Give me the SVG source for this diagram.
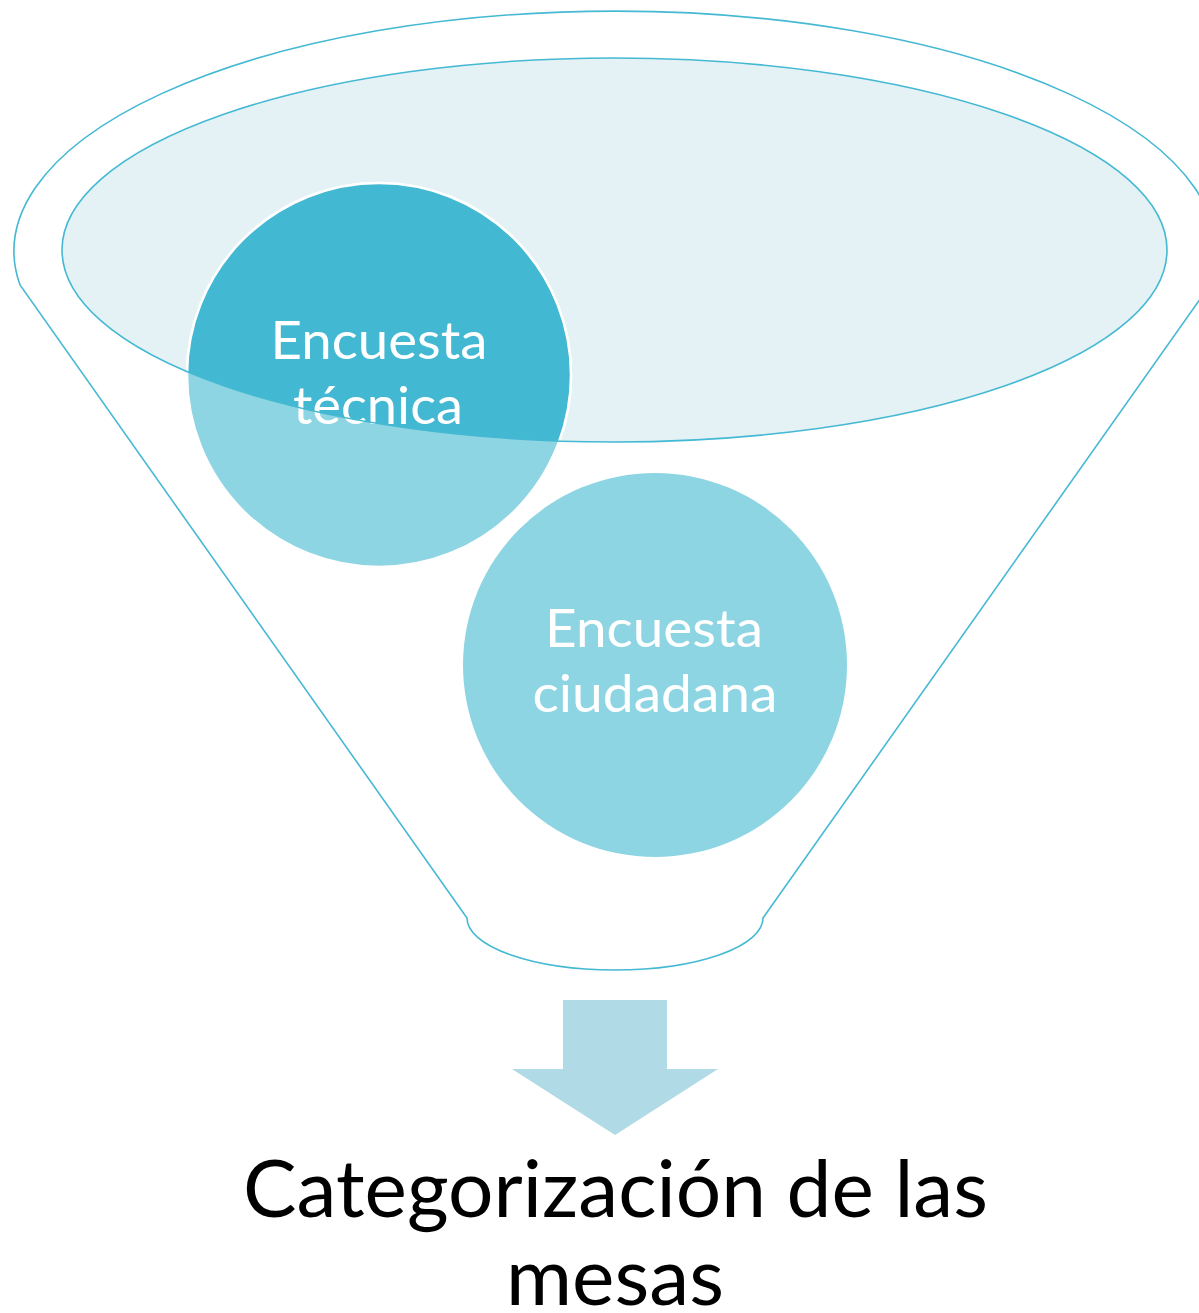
<svg xmlns="http://www.w3.org/2000/svg" width="1199" height="1313" viewBox="0 0 1199 1313">
  <style>
    .line { fill: none; stroke: #45B9D3; stroke-width: 1.6; }
    .lbl { font-family: Lato, "Open Sans", "Liberation Sans", sans-serif; fill: #FFFFFF; font-size: 52px; text-anchor: middle; }
    .cap { font-family: Lato, "Open Sans", "Liberation Sans", sans-serif; fill: #000000; font-size: 79px; text-anchor: middle; }
  </style>
  <defs>
    <clipPath id="innerClip">
      <ellipse cx="614.5" cy="250" rx="552.5" ry="192"/>
    </clipPath>
  </defs>
  <rect width="1199" height="1313" fill="#FFFFFF"/>
  <g id="funnel">
    <path class="line" fill="#FFFFFF" d="M 20,285 A 601 240 0 1 1 1210,285 L 763,918 A 148 52 0 0 1 467,918 Z" style="fill:#FFFFFF"/>
    <ellipse id="funnel-top" cx="614.5" cy="250" rx="552.5" ry="192" fill="#E4F2F6"/>
  </g>
  <g id="node-tecnica">
    <circle cx="379" cy="375" r="192" fill="#8ED5E3" stroke="#FFFFFF" stroke-width="2.5"/>
    <circle cx="379" cy="375" r="192" fill="#42B8D2" stroke="#FFFFFF" stroke-width="2.5" clip-path="url(#innerClip)"/>
    <text class="lbl" x="379" y="359" textLength="217" lengthAdjust="spacingAndGlyphs">Encuesta</text>
    <text class="lbl" x="378" y="424" textLength="170" lengthAdjust="spacingAndGlyphs">técnica</text>
  </g>
  <g id="funnel-rim">
    <ellipse class="line" cx="614.5" cy="250" rx="552.5" ry="192"/>
  </g>
  <g id="node-ciudadana">
    <circle cx="655" cy="665" r="192" fill="#8ED5E3"/>
    <text class="lbl" x="654" y="647" textLength="218" lengthAdjust="spacingAndGlyphs">Encuesta</text>
    <text class="lbl" x="655" y="712" textLength="245" lengthAdjust="spacingAndGlyphs">ciudadana</text>
  </g>
  <g id="connectors">
    <polygon points="563,1000 667,1000 667,1069 718,1069 615,1135 512,1069 563,1069" fill="#B0DAE5"/>
  </g>
  <g id="node-result">
    <text class="cap" x="615.5" y="1217" textLength="745" lengthAdjust="spacingAndGlyphs">Categorización de las</text>
    <text class="cap" x="615" y="1305" textLength="218" lengthAdjust="spacingAndGlyphs">mesas</text>
  </g>
</svg>
